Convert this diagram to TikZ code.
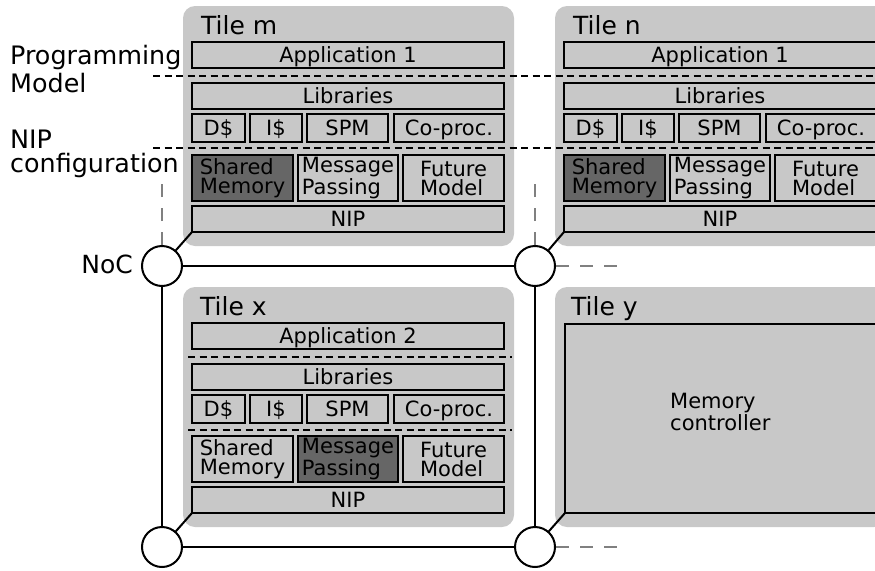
\documentclass[tikz,border=0pt]{standalone}
\usepackage{fontspec}
\setmainfont{DejaVu Sans}

\definecolor{tilegray}{RGB}{200,200,200}
\definecolor{darkfill}{RGB}{102,102,102}
\definecolor{linkgray}{RGB}{128,128,128}

\newcommand\innerfont{\fontsize{21}{19}\selectfont}
\newcommand\titlefont{\fontsize{25}{29}\selectfont}

% box from corner (x1,y1) to corner (x2,y2): [style]{name}{x1}{y1}{x2}{y2}{text}
\newcommand\mkbox[7][]{%
  \pgfmathsetmacro\mkW{(#5)-(#3)}%
  \pgfmathsetmacro\mkH{(#6)-(#4)}%
  \pgfmathsetmacro\mkX{((#3)+(#5))/2}%
  \pgfmathsetmacro\mkY{((#4)+(#6))/2}%
  \node[blk,minimum width=\mkW pt,minimum height=\mkH pt,#1] (#2) at (\mkX,\mkY) {#7};}

% software / hardware stack of one tile: {suffix}{dx}{dy}{application}{SM style}{MP style}
\newcommand\tilestack[6]{%
  \mkbox[one]{app#1}{192+#2}{42+#3}{504+#2}{68+#3}{#4}
  \mkbox[one]{lib#1}{192+#2}{83+#3}{504+#2}{109+#3}{Libraries}
  \mkbox[one]{dc#1}{192+#2}{114+#3}{245+#2}{142+#3}{D\$}
  \mkbox[one]{ic#1}{250+#2}{114+#3}{302+#2}{142+#3}{I\$}
  \mkbox[one]{spm#1}{307+#2}{114+#3}{388+#2}{142+#3}{SPM}
  \mkbox[one]{cop#1}{394+#2}{114+#3}{504+#2}{142+#3}{Co-proc.}
  \mkbox[two,#5]{sm#1}{192+#2}{155+#3}{293+#2}{201+#3}{Shared\\Memory}
  \mkbox[two,#6]{mp#1}{298+#2}{155+#3}{398+#2}{201+#3}{Message\\Passing}
  \mkbox[two]{fm#1}{403+#2}{155+#3}{504+#2}{201+#3}{Future\\Model}
  \mkbox[one]{nip#1}{192+#2}{206+#3}{504+#2}{232+#3}{NIP}
}

\begin{document}
\begin{tikzpicture}[x=1pt,y=-1pt,
  blk/.style={draw,line width=2pt,fill=tilegray,inner sep=0pt,outer sep=0pt,font=\innerfont},
  one/.style={text height=15pt,text depth=0pt},
  two/.style={align=left},
  dark/.style={fill=darkfill},
  plain/.style={},
  tilebox/.style={draw=none,rounded corners=12pt},
  title/.style={font=\titlefont,inner sep=0pt,anchor=base west},
  side/.style={font=\fontsize{25.4}{29}\selectfont,inner sep=0pt,anchor=base west},
  sepline/.style={dash pattern=on 7pt off 4.5pt,line width=2pt},
  link/.style={line width=2pt},
  linkdash/.style={draw=linkgray,line width=2pt,dash pattern=on 13pt off 11pt},
  router/.style={circle,draw,line width=2pt,fill=white,minimum size=40pt,inner sep=0pt}]

\useasboundingbox (0,0) rectangle (875,570);
\clip (0,0) rectangle (875,570);

% tiles
\mkbox[tilebox]{tm}{183}{6}{514}{246}{}
\mkbox[tilebox]{tn}{555}{6}{886}{246}{}
\mkbox[tilebox]{tx}{183}{287}{514}{527}{}
\mkbox[tilebox]{ty}{555}{287}{886}{527}{}

\node[title] (tmT) at (201,34) {Tile m};
\node[title] (tnT) at (573,34) {Tile n};
\node[title] (txT) at (200,315) {Tile x};
\node[title] (tyT) at (571,315) {Tile y};

\tilestack{m}{0}{0}{Application 1}{dark}{plain}
\tilestack{n}{372}{0}{Application 1}{dark}{plain}
\tilestack{x}{0}{281}{Application 2}{plain}{dark}

% memory controller tile
\mkbox{mc}{565}{324}{877}{513}{}
\node[font=\fontsize{21}{22}\selectfont,align=left,inner sep=0pt,anchor=base west] (mcT) at (670,430) {Memory\\controller};

% layer separators
\coordinate (pmL) at (153,75.5);  \coordinate (pmR) at (880,75.5);
\coordinate (ncL) at (153,148);   \coordinate (ncR) at (880,148);
\coordinate (pxL) at (188,357);   \coordinate (pxR) at (512,357);
\coordinate (nxL) at (188,429.5); \coordinate (nxR) at (512,429.5);
\draw[sepline] (pmL) -- (pmR);
\draw[sepline] (ncL) -- (ncR);
\draw[sepline] (pxL) -- (pxR);
\draw[sepline] (nxL) -- (nxR);

\node[side] (pmA) at (10,64) {Programming};
\node[side] (pmB) at (10,92.5) {Model};
\node[side] (ncA) at (10,148) {NIP};
\node[side] (ncB) at (10,172) {configuration};

% network on chip
\node[router] (r1) at (162,266) {};
\node[router] (r2) at (535,266) {};
\node[router] (r3) at (162,547) {};
\node[router] (r4) at (535,547) {};

\coordinate (u1) at (162,181);
\coordinate (u2) at (535,181);
\coordinate (e2) at (621,266);
\coordinate (e4) at (621,547);
\draw[linkdash] (r1) -- (u1);
\draw[linkdash] (r2) -- (u2);
\draw[linkdash] (r2) -- (e2);
\draw[linkdash] (r4) -- (e4);

\draw[link] (r1) -- (r2);
\draw[link] (r3) -- (r4);
\draw[link] (r1) -- (r3);
\draw[link] (r2) -- (r4);

\draw[link] (r1) -- (nipm.south west);
\draw[link] (r2) -- (nipn.south west);
\draw[link] (r3) -- (nipx.south west);
\draw[link] (r4) -- (mc.south west);

\node[font=\titlefont,inner sep=0pt,anchor=east] (noc) at (133,264) {NoC};
\end{tikzpicture}
\end{document}
